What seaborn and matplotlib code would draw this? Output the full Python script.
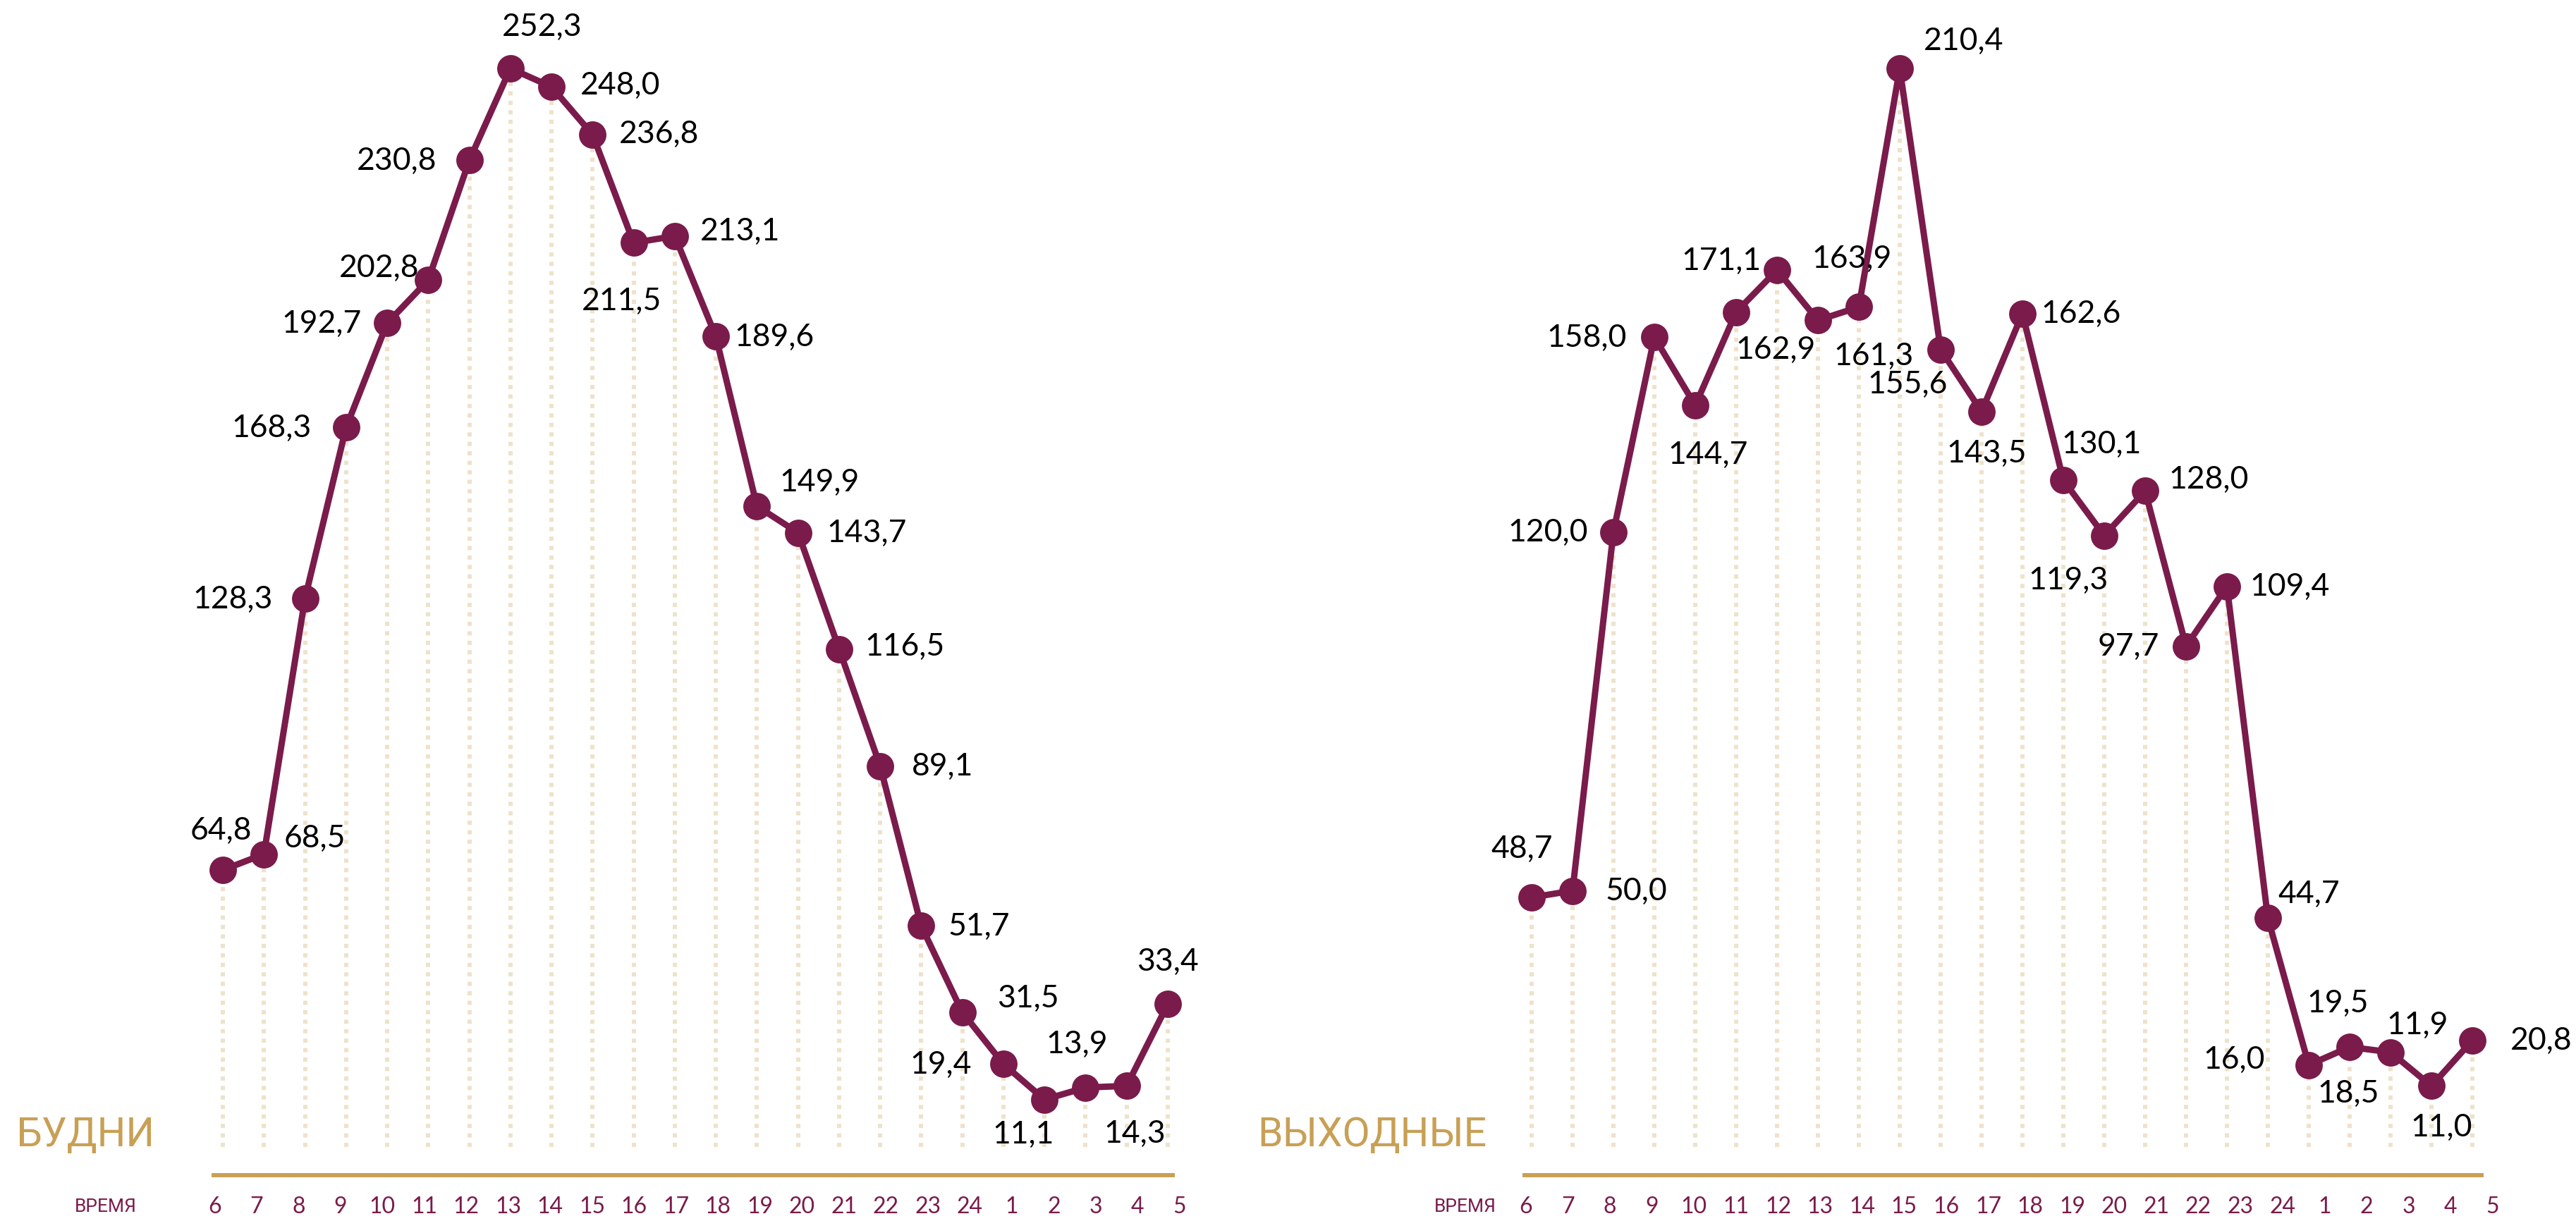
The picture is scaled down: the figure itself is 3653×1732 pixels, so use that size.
import numpy as np
import pandas as pd
import seaborn as sns
import matplotlib.pyplot as plt

# hours along the x axis (night hours after midnight come last)
hours = ["6", "7", "8", "9", "10", "11", "12", "13", "14", "15", "16", "17",
         "18", "19", "20", "21", "22", "23", "24", "1", "2", "3", "4", "5"]

weekdays = [64.8, 68.5, 128.3, 168.3, 192.7, 202.8, 230.8, 252.3, 248.0, 236.8,
            211.5, 213.1, 189.6, 149.9, 143.7, 116.5, 89.1, 51.7, 31.5, 19.4,
            11.1, 13.9, 14.3, 33.4]
weekend = [48.7, 50.0, 120.0, 158.0, 144.7, 162.9, 171.1, 161.3, 163.9, 210.4,
           155.6, 143.5, 162.6, 130.1, 119.3, 128.0, 97.7, 109.4, 44.7, 16.0,
           19.5, 18.5, 11.9, 20.8]

titles = ["БУДНИ", "ВЫХОДНЫЕ"]
axis_name = "ВРЕМЯ"
# stray label that sits under the 4 o'clock weekend point
weekend_extra = ("11,0", 22, 11.9)

# label offsets (points) from each marker
off_weekdays = [(-2, 41), (52, 17), (-74, 0), (-76, 0), (-67, 0), (-50, 13), (-74, 0),
                (32, 43), (70, 2), (68, 1), (-12, -59), (67, 5), (60, 0), (64, 25),
                (70, 0), (67, 3), (64, 0), (59, 0), (67, 15), (-64, 0), (-22, -35),
                (-9, 45), (8, -48), (0, 44)]
off_weekend = [(-10, 50), (65, 0), (-67, 0), (-69, 0), (13, -50), (40, -38), (-57, 10),
               (57, -36), (-7, 50), (65, 29), (-34, -35), (5, -42), (60, 0), (39, 37),
               (-37, -45), (65, 12), (-59, 0), (64, 0), (42, 25), (-76, 6), (-12, 45),
               (-43, -42), (-14, 63), (70, 0)]

PURPLE = "#7A1B4B"
GOLD = "#C8A055"
DOTS = "#EEE2CA"

sns.set_theme(style="white")
plt.rcParams["font.family"] = ["Lato", "DejaVu Sans"]

W, H = 3653, 1733
fig = plt.figure(figsize=(W / 100, H / 100), dpi=100)
ZERO_Y = 1628  # pixel row of value 0


def panel(values, offsets, x_first, step, ppu, ymax, tick_shift, tick_stretch, bounds):
    ax = fig.add_axes([(x_first - step / 2) / W, (H - ZERO_Y) / H,
                       24 * step / W, ymax * ppu / H])
    df = pd.DataFrame({"i": np.arange(len(values)), "v": values})
    ax.vlines(df["i"], 0, df["v"], colors=DOTS, linewidth=4.3,
              linestyles=(0, (1.0, 1.25)), zorder=1)
    sns.lineplot(data=df, x="i", y="v", ax=ax, color=PURPLE, linewidth=6.5,
                 marker="o", markersize=28, markeredgewidth=0, zorder=3)
    for i, (v, (dx, dy)) in enumerate(zip(values, offsets)):
        ax.annotate(f"{v:.1f}".replace(".", ","), xy=(i, v), xytext=(dx, dy),
                    textcoords="offset points", ha="center", va="center",
                    fontsize=32, color="black", zorder=4)
    ax.set_xlim(-0.5, 23.5)
    ax.set_ylim(0, ymax)
    ax.set_xlabel("")
    ax.set_ylabel("")
    ax.set_yticks([])
    ax.set_xticks([tick_shift + k * tick_stretch for k in range(len(hours))])
    ax.set_xticklabels(hours)
    ax.tick_params(axis="x", length=0, pad=21, labelsize=23, labelcolor=PURPLE)
    for s in ["left", "right", "top"]:
        ax.spines[s].set_visible(False)
    sp = ax.spines["bottom"]
    sp.set_position(("outward", 28.8))
    sp.set_color(GOLD)
    sp.set_linewidth(4.3)
    sp.set_bounds(*bounds)
    ax.patch.set_alpha(0)
    return ax


ax1 = panel(weekdays, off_weekdays, 316, 58.26, 6.064, 258, -0.2, 1.0213, (-0.22, 23.12))
ax2 = panel(weekend, off_weekend, 2172, 58.0, 7.27, 214, -0.14, 1.0276, (-0.17, 23.22))

txt, idx, val = weekend_extra
ax2.annotate(txt, xy=(idx, val), xytext=(10, -42), textcoords="offset points",
             ha="center", va="center", fontsize=32, color="black", zorder=4)

cyr = ["Roboto", "DejaVu Sans"]
fig.text(23 / W, 1 - 1626 / H, titles[0], ha="left", va="baseline",
         fontsize=41, color=GOLD, family=cyr)
fig.text(2108 / W, 1 - 1626 / H, titles[1], ha="right", va="baseline",
         fontsize=41, color=GOLD, family=cyr)
for xc in (150, 2078):
    fig.text(xc / W, 1 - 1712 / H, axis_name, ha="center", va="center",
             fontsize=19, color=PURPLE, family=cyr)

fig.savefig("out.png", dpi=100)
